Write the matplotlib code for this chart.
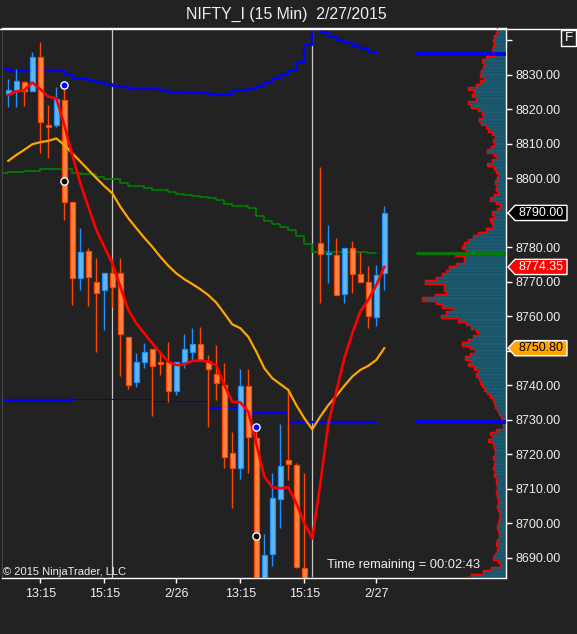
import matplotlib

matplotlib.use("Agg")
import matplotlib.pyplot as plt
import numpy as np
from matplotlib.lines import Line2D
from matplotlib.patches import Polygon, Rectangle
from matplotlib.transforms import blended_transform_factory

plt.rcParams["font.family"] = ["Liberation Sans", "DejaVu Sans"]

# --- candles, 15 min bars (index 0..47) ---
opens = [8824.4, 8825.6, 8827.9, 8825.4, 8835.1, 8815.6, 8815.5, 8822.8, 8793.1, 8771.1,
         8779.0, 8769.9, 8767.6, 8772.5, 8772.5, 8754.0, 8741.1, 8746.9, 8750.5, 8746.7,
         8746.7, 8738.4, 8746.7, 8749.8, 8752.0, 8747.1, 8743.2, 8740.1, 8720.3, 8716.0,
         8739.9, 8724.7, 8680.0, 8691.3, 8707.0, 8718.3, 8717.0, 8687.2, 8676.0, 8781.2,
         8778.0, 8777.7, 8766.6, 8779.8, 8772.4, 8769.9, 8759.8, 8772.5]
highs = [8828.7, 8831.7, 8828.3, 8836.5, 8839.5, 8821.3, 8826.4, 8825.9, 8793.1, 8785.6,
         8779.8, 8776.9, 8772.5, 8776.9, 8776.9, 8754.0, 8749.5, 8752.2, 8750.5, 8749.8,
         8752.7, 8746.7, 8754.9, 8756.6, 8756.9, 8748.8, 8751.7, 8746.6, 8726.6, 8744.8,
         8744.8, 8727.9, 8697.0, 8714.7, 8728.8, 8738.5, 8717.5, 8714.5, 8684.8, 8803.4,
         8786.5, 8782.8, 8779.8, 8781.9, 8778.7, 8774.6, 8774.9, 8792.0]
lows = [8820.8, 8820.8, 8821.0, 8825.2, 8807.5, 8806.0, 8815.0, 8788.0, 8763.3, 8767.7,
        8763.0, 8749.8, 8756.1, 8762.8, 8742.8, 8738.9, 8739.7, 8745.2, 8731.2, 8743.0,
        8735.1, 8737.2, 8745.2, 8747.4, 8747.4, 8728.1, 8735.8, 8716.0, 8704.4, 8712.9,
        8714.7, 8678.0, 8678.0, 8687.8, 8698.8, 8712.6, 8687.0, 8680.0, 8672.0, 8764.0,
        8769.8, 8766.1, 8763.8, 8766.7, 8769.9, 8756.7, 8757.3, 8767.7]
closes = [8825.6, 8828.1, 8825.4, 8835.1, 8816.3, 8814.8, 8823.0, 8793.1, 8771.1, 8778.7,
          8771.4, 8766.7, 8772.5, 8768.5, 8754.8, 8740.1, 8746.9, 8749.6, 8745.7, 8746.2,
          8738.4, 8746.7, 8750.5, 8752.0, 8747.4, 8744.7, 8740.8, 8719.2, 8716.0, 8739.9,
          8725.0, 8680.0, 8691.0, 8707.3, 8716.7, 8717.2, 8687.3, 8682.0, 8681.0, 8778.0,
          8778.4, 8766.1, 8779.8, 8772.2, 8769.9, 8760.1, 8772.0, 8790.0]

# fast average (red) and slow average (orange)
ema_fast = [8824.2, 8825.2, 8825.6, 8827.8, 8825.9, 8823.7, 8823.2, 8815.5, 8806.8, 8798.6,
            8791.8, 8785.1, 8780.2, 8775.4, 8768.6, 8761.9, 8758.0, 8755.1, 8752.2, 8749.5,
            8746.9, 8745.9, 8746.1, 8747.1, 8747.2, 8746.9, 8745.9, 8740.1, 8735.3, 8735.1,
            8732.4, 8723.2, 8713.6, 8710.5, 8710.2, 8710.5, 8705.9, 8700.1, 8695.7, 8711.5,
            8729.0, 8738.2, 8747.9, 8755.1, 8761.4, 8764.8, 8769.1, 8774.35]
ma_slow = [8805.1, 8806.8, 8808.3, 8809.9, 8810.5, 8810.9, 8811.6, 8809.7, 8807.3, 8804.9,
           8802.5, 8800.1, 8797.8, 8795.7, 8791.8, 8788.5, 8785.6, 8782.8, 8780.2, 8777.3,
           8774.7, 8772.5, 8770.8, 8769.4, 8767.9, 8766.2, 8764.0, 8760.9, 8757.7, 8756.6,
           8754.1, 8749.8, 8745.0, 8742.1, 8740.4, 8738.7, 8734.3, 8730.5, 8727.3, 8731.0,
           8734.3, 8737.0, 8739.9, 8742.6, 8744.5, 8745.7, 8747.4, 8750.8]

# step bands, index -1..46
band_upper = [8831.65, 8831.25, 8831.25, 8831.25, 8831.16, 8831.16, 8831.0, 8831.0, 8830.3, 8829.0,
              8828.7, 8828.35, 8827.9, 8827.4, 8826.9, 8826.4, 8826.0, 8826.0, 8825.85, 8825.85,
              8825.45, 8825.15, 8825.05, 8824.85, 8824.7, 8824.7, 8824.4, 8824.1, 8824.5, 8825.55,
              8825.55, 8825.95, 8826.8, 8827.9, 8829.2, 8830.3, 8831.35, 8833.7, 8838.7, 8843.3,
              8842.4, 8841.1, 8840.15, 8839.35, 8838.4, 8837.75, 8836.75, 8836.1]
band_mid = [8801.5, 8801.8, 8801.8, 8802.3, 8802.3, 8802.7, 8802.7, 8802.7, 8802.7, 8801.7,
            8801.3, 8801.3, 8800.5, 8799.9, 8799.9, 8798.6, 8797.9, 8797.9, 8797.2, 8796.7,
            8796.7, 8796.0, 8795.5, 8795.2, 8795.0, 8794.7, 8794.3, 8793.8, 8792.6, 8792.0,
            8792.0, 8791.4, 8789.1, 8787.7, 8786.7, 8786.0, 8785.1, 8783.3, 8781.0, 8778.8,
            8778.8, 8778.8, 8778.8, 8778.8, 8778.8, 8778.8, 8778.5, 8778.5]
band_lower = [8735.9, 8735.9, 8735.9, 8735.9, 8735.9, 8735.9, 8735.9, 8735.9, 8735.9, 8736.1,
              8736.1, 8736.1, 8736.1, 8736.1, 8736.1, 8736.1, 8736.1, 8736.1, 8736.1, 8735.5,
              8735.5, 8735.5, 8735.5, 8735.5, 8735.5, 8735.5, 8733.4, 8733.4, 8733.4, 8733.4,
              8731.9, 8731.9, 8731.9, 8731.9, 8731.9, 8731.9, 8729.3, 8729.3, 8729.3, 8729.3,
              8729.3, 8729.3, 8729.3, 8729.3, 8729.3, 8729.3, 8729.3, 8729.3]

# volume profile, one row per point from 8843 down to 8684 (row width in px)
profile_top = 8843
profile_width = [9, 10, 12, 13, 12, 13, 14, 11, 20, 24, 22, 23, 25, 26, 22, 26, 30, 38, 32, 34,
                 30, 38, 35, 28, 24, 23, 27, 25, 20, 18, 14, 11, 13, 12, 15, 19, 12, 9, 14, 19,
                 12, 10, 8, 9, 11, 9, 10, 8, 12, 16, 10, 6, 9, 14, 12, 16, 14, 13, 20, 28,
                 33, 38, 42, 44, 40, 51, 42, 42, 50, 57, 60, 64, 70, 81, 62, 62, 60, 71, 84, 70,
                 64, 53, 60, 65, 48, 40, 35, 30, 28, 33, 38, 44, 36, 31, 36, 41, 35, 38, 32, 28,
                 30, 27, 26, 24, 22, 19, 16, 13, 12, 11, 9, 7, 5, 4, 3, 3, 10, 16, 14, 18,
                 13, 12, 11, 11, 13, 11, 12, 13, 11, 12, 10, 10, 9, 9, 10, 9, 8, 8, 9, 8,
                 7, 6, 7, 8, 9, 8, 7, 7, 9, 10, 8, 9, 11, 13, 8, 6, 15, 23, 35, 41]

# swing markers (bar index, price)
dots_blue = [(7, 8827.0), (31, 8727.9)]
dots_black = [(7, 8799.2), (31, 8696.3)]

session_breaks = [13, 38]
xtick_pos = [4, 12, 21, 29, 37, 46]
xtick_labels = ["13:15", "15:15", "2/26", "13:15", "15:15", "2/27"]
ytick_pos = list(range(8690, 8850, 10))
ytick_hidden = [8840, 8790, 8750]  # covered by the "F" box and the price tags

BG = "#222222"
UP_FILL, UP_EDGE = "#62b6f0", "#1e90ff"
DN_FILL, DN_EDGE = "#ff8444", "#ff4500"
W, H = 577, 634
PX = 8.0  # pixels per bar

fig = plt.figure(figsize=(W / 100, H / 100), dpi=100, facecolor=BG)
ax = fig.add_axes([2 / W, 56 / H, 504 / W, 550 / H], facecolor=BG)
x_left, x_right = -0.7875, 62.2125
y_bot, y_top = 8684.2, 8843.6

# session separators
for b in session_breaks:
    ax.axvline(b, color="#c8c8c8", lw=0.9, zorder=1)

# bands
xb = np.arange(-1, len(band_upper) - 1)
ax.step(xb, band_upper, where="post", color="#0000ff", lw=1.6, zorder=2)
ax.step(xb, band_mid, where="post", color="#008000", lw=1.2, zorder=2)
ax.step(xb[:10], band_lower[:10], where="post", color="#0000ff", lw=1.6, zorder=2)
ax.step(xb[9:27], band_lower[9:27], where="post", color="#0000c0", lw=0.8, zorder=2)
ax.step(xb[26:], band_lower[26:], where="post", color="#0000ff", lw=1.6, zorder=2)

# candles
for i, (o, h, l, c) in enumerate(zip(opens, highs, lows, closes)):
    up = c >= o
    ec = UP_EDGE if up else DN_EDGE
    fc = UP_FILL if up else DN_FILL
    ax.vlines(i, l, h, color=ec, lw=1.0, zorder=3)
    lo, hi = min(o, c), max(o, c)
    ax.add_patch(Rectangle((i - 0.28, lo), 0.56, max(hi - lo, 0.35),
                           fc=fc, ec=ec, lw=0.9, zorder=4))

# moving averages
xi = np.arange(len(closes))
ax.plot(xi, ma_slow, color="#ffa500", lw=1.6, zorder=5)
ax.plot(xi, ema_fast, color="#ff0000", lw=1.9, zorder=5)

for x, p in dots_blue:
    ax.plot(x, p, "o", ms=5.2, mfc="#0000ff", mec="white", mew=1.0, zorder=6)
for x, p in dots_black:
    ax.plot(x, p, "o", ms=5.2, mfc="black", mec="white", mew=1.0, zorder=6)

# volume profile
levels = profile_top - np.arange(len(profile_width))
widths = np.array(profile_width) / PX
ax.barh(levels, widths, left=x_right - widths, height=1.0, color="#1c5a70",
        edgecolor="#174b5e", lw=0.3, zorder=2)
px, py = [], []
for p, w in zip(levels, widths):
    px += [x_right - w, x_right - w]
    py += [p + 0.5, p - 0.5]
ax.plot(px, py, color="#ff0000", lw=1.0, zorder=3)
prof_x0 = (416 - 8.3) / PX
ax.hlines([band_upper[-1], band_lower[-1]], prof_x0, x_right, color="#0000ff", lw=2.6, zorder=4)
ax.hlines(band_mid[-1], prof_x0, x_right, color="#008000", lw=2.0, zorder=4)

ax.set_xlim(x_left, x_right)
ax.set_ylim(y_bot, y_top)

# axes styling
for side in ["top", "bottom", "right"]:
    ax.spines[side].set_color("white")
    ax.spines[side].set_linewidth(1.0)
ax.spines["left"].set_color("#444444")
ax.yaxis.tick_right()
ax.set_yticks(ytick_pos)
ax.set_yticklabels(["" if v in ytick_hidden else f"{v:.2f}" for v in ytick_pos])
ax.tick_params(axis="y", colors="white", length=4.5, width=1, pad=2, labelsize=9,
               labelcolor="#f0f0f0")
ax.set_xticks(xtick_pos)
ax.set_xticklabels(xtick_labels)
ax.tick_params(axis="x", colors="white", length=3.5, width=1, pad=3.5, labelsize=9,
               labelcolor="#f0f0f0")

# price tags on the axis
tr = blended_transform_factory(fig.transFigure, ax.transData)


def price_tag(p, text, fc, tc):
    hh = 2.2
    pts = [(508 / W, p), (515 / W, p + hh), (567 / W, p + hh), (567 / W, p - hh), (515 / W, p - hh)]
    ax.add_patch(Polygon(pts, closed=True, transform=tr, fc=fc, ec="white", lw=1.0,
                         clip_on=False, zorder=8))
    ax.text(541 / W, p, text, transform=tr, ha="center", va="center", color=tc,
            fontsize=9, clip_on=False, zorder=9)


price_tag(closes[-1], f"{closes[-1]:.2f}", "black", "white")
price_tag(ema_fast[-1], f"{ema_fast[-1]:.2f}", "#ff0000", "white")
price_tag(ma_slow[-1], f"{ma_slow[-1]:.2f}", "#ffa500", "black")

# frame and texts
fig.add_artist(Line2D([0, 1], [1 - 28.5 / H, 1 - 28.5 / H], color="white", lw=1.0))
fig.add_artist(Rectangle((561 / W, 1 - 46 / H), 15 / W, 16 / H, fc="none", ec="white",
                         lw=1.0, transform=fig.transFigure))
fig.text(568.5 / W, 1 - 38 / H, "F", color="white", fontsize=9.5, ha="center", va="center")
fig.text(286 / W, 1 - 14 / H, "NIFTY_I (15 Min)  2/27/2015", color="#f0f0f0",
         fontsize=11.4, ha="center", va="center")
fig.text(3 / W, 1 - 572 / H, "\u00a9 2015 NinjaTrader, LLC", color="#f0f0f0",
         fontsize=8, ha="left", va="center")
fig.text(327 / W, 1 - 565 / H, "Time remaining = 00:02:43", color="#f0f0f0",
         fontsize=9.3, ha="left", va="center")

fig.savefig("out.png", dpi=100, facecolor=BG)
